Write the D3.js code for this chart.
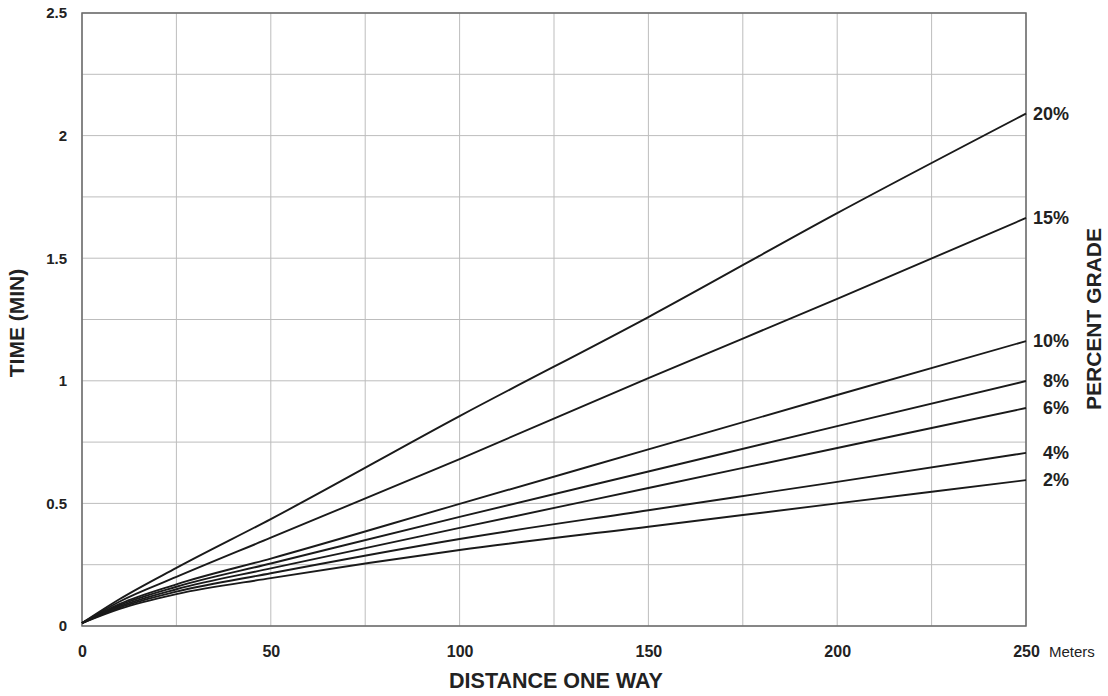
<!DOCTYPE html>
<html><head><meta charset="utf-8">
<script src="https://cdn.jsdelivr.net/npm/d3@7"></script>
<style>body{margin:0;background:#fff}svg{display:block}</style>
</head><body>
<svg id="c" width="1108" height="696"></svg>
<script>
const distances = [0, 10, 25, 50, 100, 150, 200, 250];
const grades = ["2%", "4%", "6%", "8%", "10%", "15%", "20%"];
const time2  = [0.012, 0.070, 0.130, 0.195, 0.310, 0.405, 0.500, 0.595];
const time4  = [0.012, 0.075, 0.140, 0.215, 0.355, 0.472, 0.588, 0.706];
const time6  = [0.012, 0.080, 0.150, 0.235, 0.400, 0.563, 0.726, 0.889];
const time8  = [0.012, 0.085, 0.160, 0.255, 0.445, 0.630, 0.815, 0.999];
const time10 = [0.012, 0.090, 0.170, 0.275, 0.498, 0.720, 0.942, 1.162];
const time15 = [0.012, 0.100, 0.200, 0.360, 0.681, 1.011, 1.334, 1.664];
const time20 = [0.012, 0.110, 0.237, 0.436, 0.856, 1.260, 1.684, 2.090];
const xTicks = [0, 50, 100, 150, 200, 250];
const yTicks = [0, 0.5, 1, 1.5, 2, 2.5];
const xGrid = d3.range(0, 251, 25);
const yGrid = d3.range(0, 2.51, 0.25);
const seriesValues = [time2, time4, time6, time8, time10, time15, time20];

const svg = d3.select("#c");
const x = d3.scaleLinear().domain([0, 250]).range([82, 1026]);
const y = d3.scaleLinear().domain([0, 2.5]).range([626, 13]);
const sans = "Liberation Sans, Arial, Helvetica, sans-serif";

// grid
svg.append("g").selectAll("line").data(xGrid).join("line")
  .attr("x1", d => x(d)).attr("x2", d => x(d)).attr("y1", y(0)).attr("y2", y(2.5))
  .attr("stroke", "#bdbdbd").attr("stroke-width", 1);
svg.append("g").selectAll("line").data(yGrid).join("line")
  .attr("y1", d => y(d)).attr("y2", d => y(d)).attr("x1", x(0)).attr("x2", x(250))
  .attr("stroke", "#bdbdbd").attr("stroke-width", 1);

// frame
svg.append("rect").attr("x", x(0)).attr("y", y(2.5)).attr("width", x(250) - x(0)).attr("height", y(0) - y(2.5))
  .attr("fill", "none").attr("stroke", "#6a6a6a").attr("stroke-width", 1.5);

// axes (labels only)
const xAxis = svg.append("g").attr("transform", `translate(0,${y(0) + 17})`)
  .call(d3.axisBottom(x).tickValues(xTicks).tickSize(0).tickFormat(d3.format("d")));
xAxis.select(".domain").remove();
xAxis.selectAll("text").attr("font-family", sans).attr("font-weight", "bold")
  .attr("font-size", 16).attr("fill", "#222");

const yAxis = svg.append("g").attr("transform", `translate(${x(0) - 12},0)`)
  .call(d3.axisLeft(y).tickValues(yTicks).tickSize(0).tickFormat(d => d3.format("")(d)));
yAxis.select(".domain").remove();
yAxis.selectAll("text").attr("font-family", sans).attr("font-weight", "bold")
  .attr("font-size", 15).attr("fill", "#222");

// lines
const line = d3.line().x((d, i) => x(distances[i])).y(d => y(d)).curve(d3.curveMonotoneX);
svg.append("g").selectAll("path").data(seriesValues).join("path")
  .attr("d", d => line(d)).attr("fill", "none").attr("stroke", "#1a1a1a").attr("stroke-width", 1.9);

// grade labels
svg.append("g").selectAll("text").data(seriesValues).join("text")
  .attr("x", 1069).attr("y", d => y(d[d.length - 1]))
  .attr("dy", "0.35em").attr("text-anchor", "end")
  .attr("font-family", sans).attr("font-weight", "bold")
  .attr("font-size", 18).attr("fill", "#222")
  .text((d, i) => grades[i]);

// titles
svg.append("text").attr("x", 1049).attr("y", y(0) + 20).attr("dy", "0.71em")
  .attr("font-family", sans).attr("font-size", 15).attr("fill", "#222").text("Meters");
svg.append("text").attr("x", 556).attr("y", 688).attr("text-anchor", "middle")
  .attr("font-family", sans).attr("font-weight", "bold").attr("font-size", 21.5).attr("fill", "#222")
  .text("DISTANCE ONE WAY");
svg.append("text").attr("transform", "translate(24,323) rotate(-90)").attr("text-anchor", "middle")
  .attr("font-family", sans).attr("font-weight", "bold").attr("font-size", 21).attr("fill", "#222")
  .text("TIME (MIN)");
svg.append("text").attr("transform", "translate(1101,319) rotate(-90)").attr("text-anchor", "middle")
  .attr("font-family", sans).attr("font-weight", "bold").attr("font-size", 21).attr("fill", "#222")
  .text("PERCENT GRADE");
</script>
</body></html>
